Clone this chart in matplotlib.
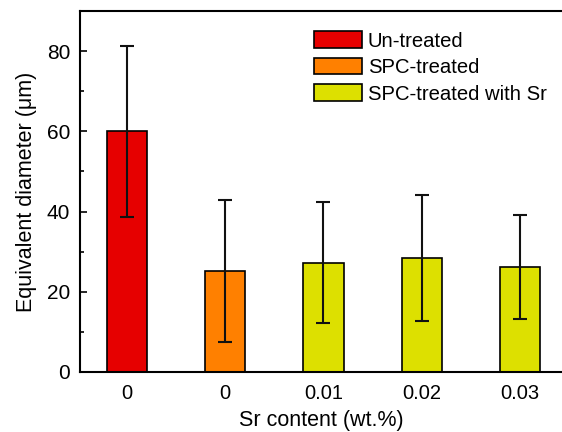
import matplotlib
matplotlib.use('Agg')
from matplotlib import pyplot as plt
from matplotlib.patches import Patch
from matplotlib.ticker import MultipleLocator

plt.rcParams['font.family'] = ['Liberation Sans', 'DejaVu Sans']

# Data
labels = ['0', '0', '0.01', '0.02', '0.03']
groups = ['Un-treated', 'SPC-treated', 'SPC-treated with Sr', 'SPC-treated with Sr', 'SPC-treated with Sr']
means = [60.0, 25.2, 27.2, 28.4, 26.1]
errors = [21.4, 17.8, 15.1, 15.8, 13.0]

group_colors = {'Un-treated': '#E60000',
                'SPC-treated': '#FF8000',
                'SPC-treated with Sr': '#DDE000'}

fig = plt.figure(figsize=(5.62, 4.32), dpi=100)
ax = fig.add_axes([0.1423, 0.1389, 0.8577, 0.8356])

x = list(range(len(means)))
colors = [group_colors[g] for g in groups]
ax.bar(x, means, width=0.41, color=colors, edgecolor='black', linewidth=1.2, zorder=2)
ax.errorbar(x, means, yerr=errors, fmt='none', ecolor='#111111', elinewidth=1.5,
            capsize=5, capthick=1.5, zorder=3)

ax.set_xlim(-0.478, 4.427)
ax.set_ylim(0, 90)
ax.set_xticks(x)
ax.set_xticklabels(labels)
ax.yaxis.set_major_locator(MultipleLocator(20))
ax.yaxis.set_minor_locator(MultipleLocator(10))
ax.tick_params(axis='y', which='major', direction='in', length=5, width=1.2,
               labelsize=15, pad=7)
ax.tick_params(axis='y', which='minor', direction='in', length=3, width=1.2)
ax.tick_params(axis='x', length=0, labelsize=14.5, pad=9)

ax.spines['right'].set_visible(False)
for s in ['left', 'bottom', 'top']:
    ax.spines[s].set_linewidth(1.5)

ax.set_xlabel('Sr content (wt.%)', fontsize=15.5, labelpad=5)
ax.set_ylabel('Equivalent diameter (\u03bcm)', fontsize=15.5, labelpad=7)

handles = [Patch(facecolor=group_colors[g], edgecolor='black', linewidth=1.2)
           for g in ['Un-treated', 'SPC-treated', 'SPC-treated with Sr']]
ax.legend(handles, ['Un-treated', 'SPC-treated', 'SPC-treated with Sr'],
          loc='upper left', bbox_to_anchor=(0.46, 0.978), frameon=False,
          fontsize=14.6, handlelength=2.35, handleheight=0.9,
          handletextpad=0.3, labelspacing=0.35, borderaxespad=0.2)

fig.savefig('out.png', dpi=100)
